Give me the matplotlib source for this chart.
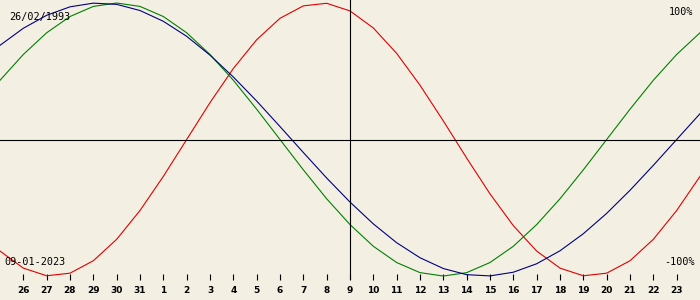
import matplotlib
matplotlib.use("Agg")
import matplotlib.pyplot as plt
import numpy as np

# biorhythm 26/02/1993 -> 09-01-2023, one value per day from 25 Dec to 24 Jan
birth = "26/02/1993"
today = "09-01-2023"
day_labels = ["26", "27", "28", "29", "30", "31", "1", "2", "3", "4", "5", "6", "7",
              "8", "9", "10", "11", "12", "13", "14", "15", "16", "17", "18", "19",
              "20", "21", "22", "23"]

physical = [-81.7, -94.2, -99.8, -97.9, -88.8, -73.1, -52.0, -27.0, 0.0, 27.0, 52.0,
            73.1, 88.8, 97.9, 99.8, 94.2, 81.7, 63.1, 39.8, 13.6, -13.6, -39.8,
            -63.1, -81.7, -94.2, -99.8, -97.9, -88.8, -73.1, -52.0, -27.0]
emotional = [43.4, 62.3, 78.2, 90.1, 97.5, 100.0, 97.5, 90.1, 78.2, 62.3, 43.4, 22.2,
             0.0, -22.2, -43.4, -62.3, -78.2, -90.1, -97.5, -100.0, -97.5, -90.1,
             -78.2, -62.3, -43.4, -22.2, 0.0, 22.2, 43.4, 62.3, 78.2]
intellectual = [69.0, 81.5, 91.0, 97.2, 99.9, 99.0, 94.5, 86.6, 75.6, 61.8, 45.8, 28.2,
                9.5, -9.5, -28.2, -45.8, -61.8, -75.6, -86.6, -94.5, -99.0, -99.9,
                -97.2, -91.0, -81.5, -69.0, -54.1, -37.2, -18.9, 0.0, 18.9]

bg = "#f3efe3"
mono = "DejaVu Sans Mono"
fig = plt.figure(figsize=(7, 3), dpi=100, facecolor=bg)
ax = fig.add_axes([0, 20 / 300, 1, 280 / 300])
ax.set_facecolor(bg)

x = np.arange(len(physical)) - 15
ax.plot(x, physical, color="#e00000", lw=0.8)
ax.plot(x, emotional, color="#008000", lw=0.8)
ax.plot(x, intellectual, color="#000080", lw=0.8)

ax.axhline(0, color="black", lw=0.8)
ax.axvline(0, color="black", lw=0.8)

ax.set_xlim(-15, 15)
ax.set_ylim(-102.9, 102.2)
for s in ax.spines.values():
    s.set_visible(False)

ax.set_xticks(np.arange(len(day_labels)) - 14)
ax.set_xticklabels(day_labels, fontsize=6.5, fontweight="bold")
ax.tick_params(axis="x", direction="in", length=4.3, width=0.8, pad=4.0)
ax.set_yticks([])

fig.text(9 / 700, 1 - 17 / 300, birth, fontsize=7.3, family=mono, va="center", ha="left")
fig.text(4 / 700, 1 - 262 / 300, today, fontsize=7.3, family=mono, va="center", ha="left")
fig.text(693 / 700, 1 - 12 / 300, "100%", fontsize=7.3, family=mono, va="center", ha="right")
fig.text(695 / 700, 1 - 262 / 300, "-100%", fontsize=7.3, family=mono, va="center", ha="right")

fig.savefig("out.png", dpi=100, facecolor=bg)
